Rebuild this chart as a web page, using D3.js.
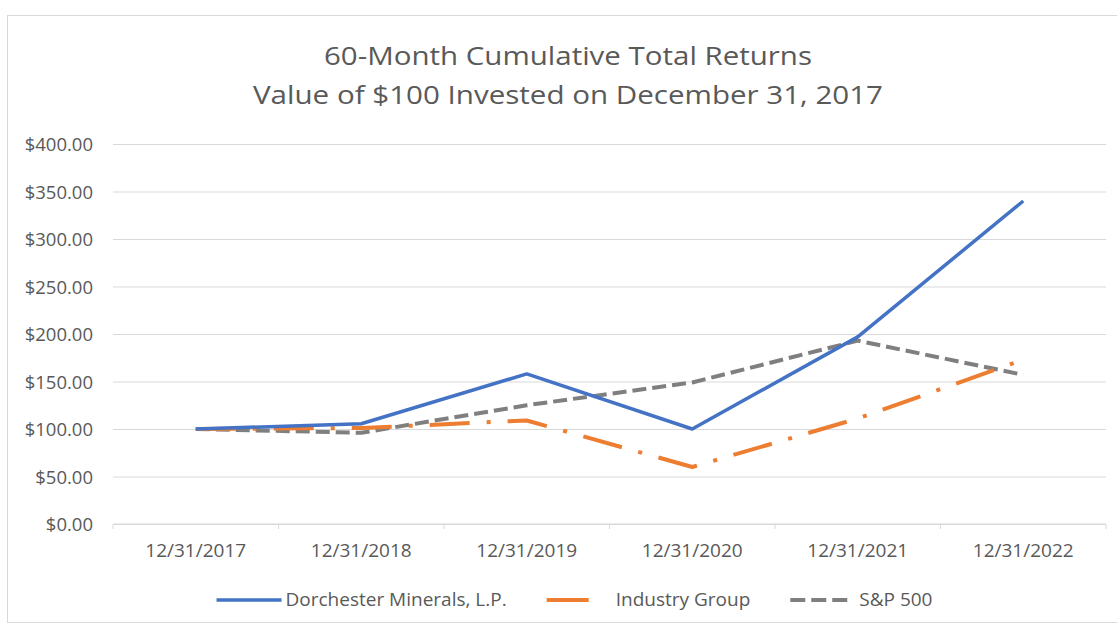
<!DOCTYPE html>
<html>
<head>
<meta charset="utf-8">
<script src="https://cdn.jsdelivr.net/npm/d3@7"></script>
<style>
  body { margin: 0; background: #fff; }
  svg { display: block; font-family: "Open Sans", sans-serif; }
  .tick text { fill: #595959; }
</style>
</head>
<body>
<script>
// chart values
const dates = ["12/31/2017", "12/31/2018", "12/31/2019", "12/31/2020", "12/31/2021", "12/31/2022"];
const dorchester = [100, 105.5, 158, 100, 197, 340];
const industry = [100, 101, 109, 60, 111, 173];
const sp500 = [100, 96, 125, 149, 193, 157];
const yTicks = [0, 50, 100, 150, 200, 250, 300, 350, 400];
const titleLines = ["60-Month Cumulative Total Returns", "Value of $100 Invested on December 31, 2017"];

const series = [
    { name: "Dorchester Minerals, L.P.", values: dorchester, color: "#4472C4", width: 3.5, dash: null, legendDash: null },
    { name: "Industry Group", values: industry, color: "#ED7D31", width: 4, dash: "40,17,4,17", legendDash: "42,100" },
    { name: "S&P 500", values: sp500, color: "#7F7F7F", width: 4, dash: "14,6", legendDash: "15,6,15,6,15,100" }
];

const W = 1117, H = 626;
const plot = { left: 113, right: 1106, top: 144, bottom: 524 };

const svg = d3.select("body").append("svg")
    .attr("width", W)
    .attr("height", H);

// chart frame
svg.append("rect")
    .attr("x", 7.5).attr("y", 15.5)
    .attr("width", W + 10).attr("height", 607)
    .attr("fill", "#fff")
    .attr("stroke", "#d9d9d9");

// title
svg.append("g").selectAll("text")
    .data(titleLines)
    .join("text")
    .attr("x", 568)
    .attr("y", (d, i) => 65 + i * 39)
    .attr("text-anchor", "middle")
    .attr("font-size", 26)
    .attr("fill", "#595959")
    .attr("textLength", (d, i) => i === 0 ? 488 : 630)
    .attr("lengthAdjust", "spacingAndGlyphs")
    .text(d => d);

const x = d3.scaleBand(dates, [plot.left, plot.right]).padding(0);
const y = d3.scaleLinear([0, 400], [plot.bottom, plot.top]);
const cx = d => x(d) + x.bandwidth() / 2;

// y axis + gridlines
svg.append("g")
    .attr("transform", `translate(${plot.left},0)`)
    .call(d3.axisLeft(y).tickValues(yTicks).tickSize(0).tickPadding(20)
        .tickFormat(d => "$" + d3.format(".2f")(d)))
    .attr("font-family", null)
    .attr("font-size", 18.5)
    .call(g => g.select(".domain").remove())
    .call(g => g.selectAll(".tick text").attr("dy", "0.36em"))
    .call(g => g.selectAll(".tick line").clone()
        .attr("x2", plot.right - plot.left)
        .attr("stroke", "#d9d9d9"));

// x axis line with boundary ticks
const xAxis = svg.append("g").attr("transform", `translate(0,${plot.bottom})`);
xAxis.append("line")
    .attr("x1", plot.left).attr("x2", plot.right)
    .attr("stroke", "#d9d9d9");
xAxis.selectAll("line.bound")
    .data(dates.map(d => x(d)).concat([plot.right]))
    .join("line")
    .attr("class", "bound")
    .attr("x1", d => d).attr("x2", d => d)
    .attr("y1", 0).attr("y2", 5)
    .attr("stroke", "#d9d9d9");
xAxis.selectAll("text")
    .data(dates)
    .join("text")
    .attr("x", cx)
    .attr("y", 33)
    .attr("text-anchor", "middle")
    .attr("font-size", 19)
    .attr("fill", "#595959")
    .text(d => d);

// lines
const line = d3.line()
    .x((d, i) => cx(dates[i]))
    .y(d => y(d));

svg.append("g").selectAll("path")
    .data(series.slice().reverse())
    .join("path")
    .attr("d", s => line(s.values))
    .attr("fill", "none")
    .attr("stroke", s => s.color)
    .attr("stroke-width", s => s.width)
    .attr("stroke-dasharray", s => s.dash)
    .attr("stroke-linejoin", "round");

// legend
const legend = svg.append("g");
const swatch = 65, gapText = 4, gapItem = 40;
const items = legend.selectAll("g")
    .data(series)
    .join("g");
items.append("line")
    .attr("x1", 0).attr("x2", swatch)
    .attr("y1", 0).attr("y2", 0)
    .attr("stroke", s => s.color)
    .attr("stroke-width", s => s.width)
    .attr("stroke-dasharray", s => s.legendDash);
items.append("text")
    .attr("x", swatch + gapText)
    .attr("y", 6)
    .attr("font-size", 19)
    .attr("fill", "#595959")
    .text(s => s.name);

let offset = 0;
const widths = [];
items.each(function() {
    widths.push(swatch + gapText + d3.select(this).select("text").node().getComputedTextLength());
});
const total = d3.sum(widths) + gapItem * (widths.length - 1);
let start = 574.5 - total / 2;
items.attr("transform", (d, i) => {
    const t = `translate(${start + offset},600)`;
    offset += widths[i] + gapItem;
    return t;
});
</script>
</body>
</html>
